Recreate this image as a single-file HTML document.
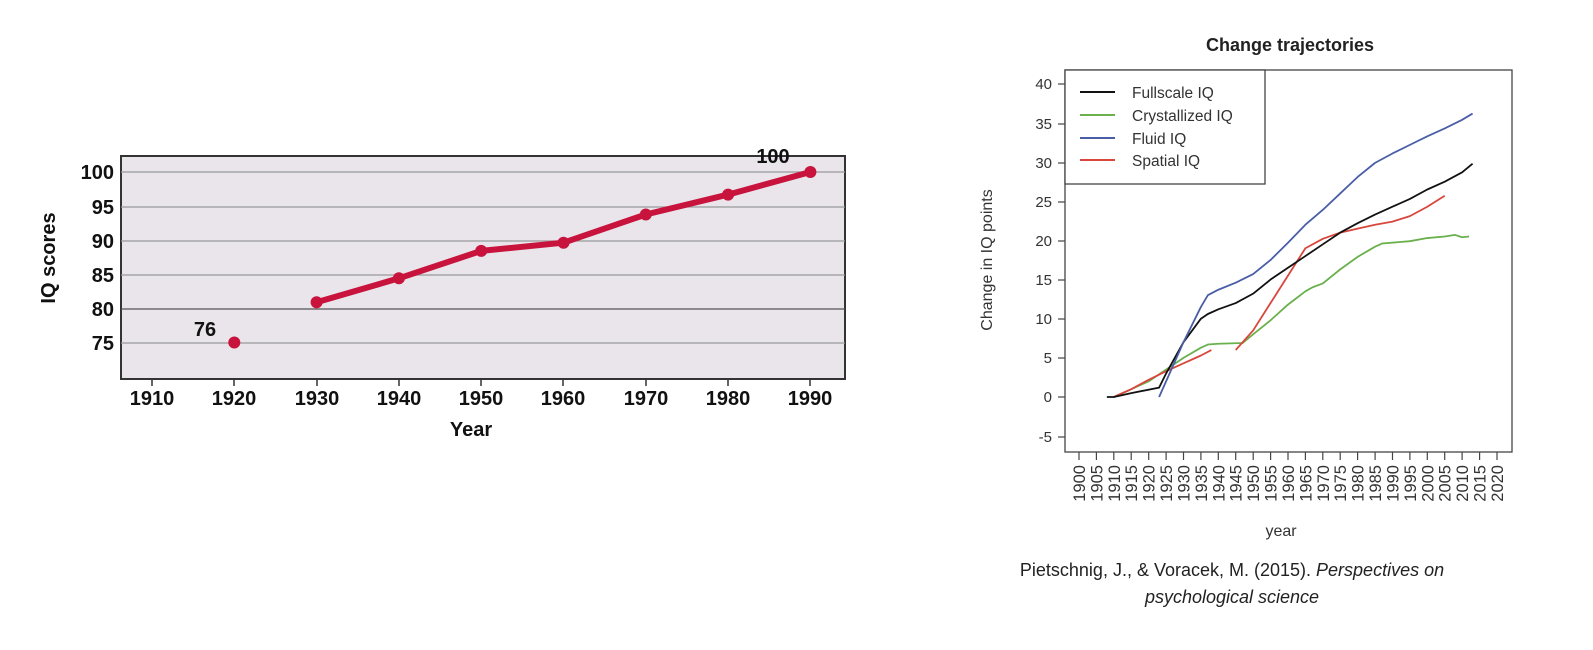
<!DOCTYPE html>
<html><head><meta charset="utf-8"><style>
html,body{margin:0;padding:0;background:#fff;}
svg{display:block;}
text{font-family:"Liberation Sans",sans-serif;}
</style></head><body>
<svg width="1593" height="650" viewBox="0 0 1593 650" xmlns="http://www.w3.org/2000/svg">
<rect x="121" y="156" width="724" height="223" fill="#e9e5eb" stroke="#333" stroke-width="2"/>
<g stroke="#999" stroke-width="1.2">
<line x1="121" x2="845" y1="172" y2="172"/><line x1="121" x2="845" y1="207" y2="207"/>
<line x1="121" x2="845" y1="241" y2="241"/><line x1="121" x2="845" y1="275" y2="275"/>
<line x1="121" x2="845" y1="309" y2="309" stroke="#555"/><line x1="121" x2="845" y1="343" y2="343"/>
</g>
<g stroke="#333" stroke-width="1.5">
<line x1="152" x2="152" y1="379" y2="386"/><line x1="234" x2="234" y1="379" y2="386"/><line x1="317" x2="317" y1="379" y2="386"/><line x1="399" x2="399" y1="379" y2="386"/><line x1="481" x2="481" y1="379" y2="386"/><line x1="563" x2="563" y1="379" y2="386"/><line x1="646" x2="646" y1="379" y2="386"/><line x1="728" x2="728" y1="379" y2="386"/><line x1="810" x2="810" y1="379" y2="386"/>
</g>
<g font-size="20" font-weight="bold" fill="#111" text-anchor="end">
<text x="114" y="179">100</text><text x="114" y="214">95</text><text x="114" y="248">90</text><text x="114" y="282">85</text><text x="114" y="316">80</text><text x="114" y="350">75</text>
</g>
<g font-size="20" font-weight="bold" fill="#111" text-anchor="middle">
<text x="152" y="405">1910</text><text x="234" y="405">1920</text><text x="317" y="405">1930</text><text x="399" y="405">1940</text><text x="481" y="405">1950</text><text x="563" y="405">1960</text><text x="646" y="405">1970</text><text x="728" y="405">1980</text><text x="810" y="405">1990</text>
<text x="471" y="436">Year</text>
<text x="205" y="336">76</text><text x="773" y="163">100</text>
<text transform="translate(55,258) rotate(-90)">IQ scores</text>
</g>
<polyline fill="none" stroke="#c8143c" stroke-width="6" stroke-linejoin="round" points="316.6,302.3 398.9,278.3 481.2,250.9 563.5,242.7 645.8,214.5 728.1,194.6 810.4,172"/>
<g fill="#c8143c">
<circle cx="234.3" cy="342.5" r="6"/><circle cx="316.6" cy="302.3" r="6"/><circle cx="398.9" cy="278.3" r="6"/><circle cx="481.2" cy="250.9" r="6"/><circle cx="563.5" cy="242.7" r="6"/><circle cx="645.8" cy="214.5" r="6"/><circle cx="728.1" cy="194.6" r="6"/><circle cx="810.4" cy="172" r="6"/>
</g>

<text x="1290" y="51" font-size="18" font-weight="bold" text-anchor="middle" fill="#222">Change trajectories</text>
<rect x="1065" y="70" width="447" height="382" fill="#fff" stroke="#444" stroke-width="1.3"/>
<g stroke="#444" stroke-width="1.2">
<line x1="1058" x2="1065" y1="84" y2="84"/><line x1="1058" x2="1065" y1="124" y2="124"/><line x1="1058" x2="1065" y1="163" y2="163"/><line x1="1058" x2="1065" y1="202" y2="202"/><line x1="1058" x2="1065" y1="241" y2="241"/><line x1="1058" x2="1065" y1="280" y2="280"/><line x1="1058" x2="1065" y1="319" y2="319"/><line x1="1058" x2="1065" y1="358" y2="358"/><line x1="1058" x2="1065" y1="397" y2="397"/><line x1="1058" x2="1065" y1="437" y2="437"/>
</g>
<g font-size="15" fill="#333" text-anchor="end">
<text x="1052" y="89">40</text><text x="1052" y="129">35</text><text x="1052" y="168">30</text><text x="1052" y="207">25</text><text x="1052" y="246">20</text><text x="1052" y="285">15</text><text x="1052" y="324">10</text><text x="1052" y="363">5</text><text x="1052" y="402">0</text><text x="1052" y="442">-5</text>
</g>
<text transform="translate(992,260) rotate(-90)" font-size="16" fill="#333" text-anchor="middle">Change in IQ points</text>
<g stroke="#444" stroke-width="1.2">
<line x1="1079" x2="1079" y1="452" y2="460"/><line x1="1096.4" x2="1096.4" y1="452" y2="460"/><line x1="1113.8" x2="1113.8" y1="452" y2="460"/><line x1="1131.2" x2="1131.2" y1="452" y2="460"/><line x1="1148.7" x2="1148.7" y1="452" y2="460"/><line x1="1166.1" x2="1166.1" y1="452" y2="460"/><line x1="1183.5" x2="1183.5" y1="452" y2="460"/><line x1="1200.9" x2="1200.9" y1="452" y2="460"/><line x1="1218.3" x2="1218.3" y1="452" y2="460"/><line x1="1235.7" x2="1235.7" y1="452" y2="460"/><line x1="1253.2" x2="1253.2" y1="452" y2="460"/><line x1="1270.6" x2="1270.6" y1="452" y2="460"/><line x1="1288" x2="1288" y1="452" y2="460"/><line x1="1305.4" x2="1305.4" y1="452" y2="460"/><line x1="1322.8" x2="1322.8" y1="452" y2="460"/><line x1="1340.2" x2="1340.2" y1="452" y2="460"/><line x1="1357.6" x2="1357.6" y1="452" y2="460"/><line x1="1375.1" x2="1375.1" y1="452" y2="460"/><line x1="1392.5" x2="1392.5" y1="452" y2="460"/><line x1="1409.9" x2="1409.9" y1="452" y2="460"/><line x1="1427.3" x2="1427.3" y1="452" y2="460"/><line x1="1444.7" x2="1444.7" y1="452" y2="460"/><line x1="1462.1" x2="1462.1" y1="452" y2="460"/><line x1="1479.6" x2="1479.6" y1="452" y2="460"/><line x1="1497" x2="1497" y1="452" y2="460"/>
</g>
<g font-size="16.5" fill="#333" text-anchor="end">
<text transform="translate(1085,465) rotate(-90)">1900</text><text transform="translate(1102.4,465) rotate(-90)">1905</text><text transform="translate(1119.8,465) rotate(-90)">1910</text><text transform="translate(1137.2,465) rotate(-90)">1915</text><text transform="translate(1154.7,465) rotate(-90)">1920</text><text transform="translate(1172.1,465) rotate(-90)">1925</text><text transform="translate(1189.5,465) rotate(-90)">1930</text><text transform="translate(1206.9,465) rotate(-90)">1935</text><text transform="translate(1224.3,465) rotate(-90)">1940</text><text transform="translate(1241.7,465) rotate(-90)">1945</text><text transform="translate(1259.2,465) rotate(-90)">1950</text><text transform="translate(1276.6,465) rotate(-90)">1955</text><text transform="translate(1294,465) rotate(-90)">1960</text><text transform="translate(1311.4,465) rotate(-90)">1965</text><text transform="translate(1328.8,465) rotate(-90)">1970</text><text transform="translate(1346.2,465) rotate(-90)">1975</text><text transform="translate(1363.6,465) rotate(-90)">1980</text><text transform="translate(1381.1,465) rotate(-90)">1985</text><text transform="translate(1398.5,465) rotate(-90)">1990</text><text transform="translate(1415.9,465) rotate(-90)">1995</text><text transform="translate(1433.3,465) rotate(-90)">2000</text><text transform="translate(1450.7,465) rotate(-90)">2005</text><text transform="translate(1468.1,465) rotate(-90)">2010</text><text transform="translate(1485.6,465) rotate(-90)">2015</text><text transform="translate(1503,465) rotate(-90)">2020</text>
</g>
<text x="1281" y="536" font-size="16" fill="#333" text-anchor="middle">year</text>
<g transform="translate(1079,397) scale(3.483,-7.83)" fill="none" stroke-width="1.8" stroke-linejoin="round">
<polyline vector-effect="non-scaling-stroke" stroke="#6ab04c" points="10,0 15,1 20,2 25,3.5 30,5 35,6.3 37,6.7 40,6.8 47,6.9 50,8 55,9.8 60,11.8 65,13.5 67,14 70,14.5 75,16.3 80,17.9 85,19.2 87,19.6 95,19.9 100,20.3 105,20.5 108,20.7 110,20.4 112,20.5"/>
<polyline vector-effect="non-scaling-stroke" stroke="#d8463c" points="10,0 15,1 20,2.2 25,3.3 30,4.3 35,5.3 38,6"/>
<polyline vector-effect="non-scaling-stroke" stroke="#d8463c" points="45,6 50,8.5 55,12 60,15.5 65,19 70,20.2 75,21 80,21.5 85,22 90,22.4 95,23.1 100,24.3 105,25.7"/>
<polyline vector-effect="non-scaling-stroke" stroke="#111" points="8,0 10,0 15,0.5 23,1.2 25,3 30,7 35,10 37,10.6 40,11.2 45,12 50,13.2 55,15 60,16.5 65,18 70,19.5 75,21 80,22.2 85,23.3 90,24.3 95,25.3 100,26.5 105,27.5 110,28.7 113,29.8"/>
<polyline vector-effect="non-scaling-stroke" stroke="#4a5ea8" points="23,0 25,2 30,7 35,11.5 37,13 40,13.7 45,14.6 50,15.7 55,17.5 60,19.7 65,22 70,23.9 75,26 80,28.1 85,29.9 90,31.1 95,32.2 100,33.3 105,34.3 110,35.4 113,36.2"/>
</g>
<rect x="1065" y="70" width="200" height="114" fill="#fff" stroke="#444" stroke-width="1.3"/>
<g stroke-width="2">
<line x1="1080" x2="1115" y1="92" y2="92" stroke="#111"/>
<line x1="1080" x2="1115" y1="115" y2="115" stroke="#6ab04c"/>
<line x1="1080" x2="1115" y1="138" y2="138" stroke="#4a5ea8"/>
<line x1="1080" x2="1115" y1="160" y2="160" stroke="#d8463c"/>
</g>
<g font-size="15.5" fill="#333">
<text x="1132" y="98">Fullscale IQ</text><text x="1132" y="121">Crystallized IQ</text><text x="1132" y="144">Fluid IQ</text><text x="1132" y="166">Spatial IQ</text>
</g>
<g font-size="18" fill="#222" text-anchor="middle">
<text x="1232" y="576">Pietschnig, J., &amp; Voracek, M. (2015). <tspan font-style="italic">Perspectives on</tspan></text>
<text x="1232" y="603" font-style="italic">psychological science</text>
</g>
</svg>
</body></html>
